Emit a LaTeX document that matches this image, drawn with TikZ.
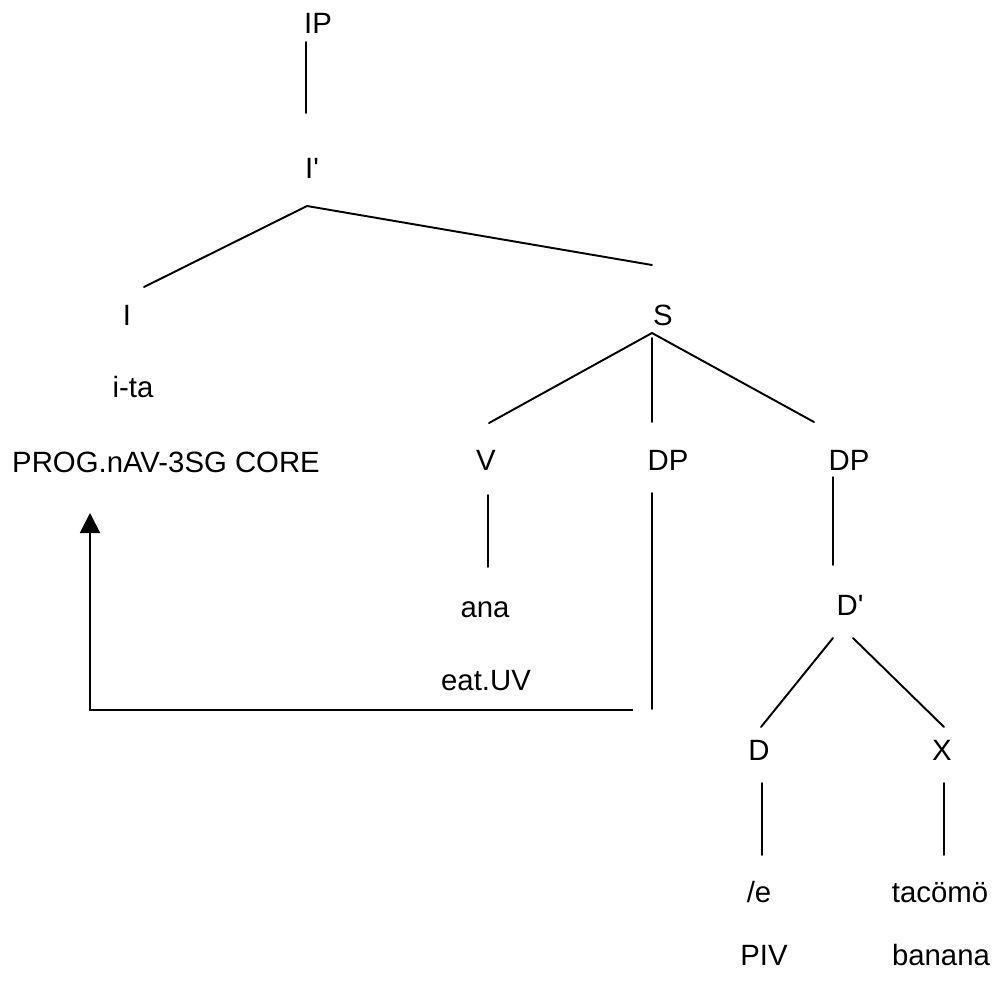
\documentclass[tikz,border=0pt]{standalone}
\usepackage{fontspec}
\setmainfont{Liberation Sans}
\usepackage{tikz}
\usetikzlibrary{arrows.meta, calc}

\begin{document}
\begin{tikzpicture}[x=0.02cm, y=-0.02cm,
    lbl/.style={anchor=base, inner sep=0pt, font=\fontsize{16.7}{20}\selectfont},
    branch/.style={line width=1.1pt, line cap=round}]
        \useasboundingbox (0,0) rectangle (995,985);

        \node[lbl] (ip) at (318,33) {IP};
        \node[lbl] (ibar) at (312,178) {I\textquotesingle};
        \node[lbl] (i) at (127,325) {I};
        \node[lbl] (s) at (663,325) {S};
        \node[lbl] (ita) at (133,397) {i-ta};
        \node[lbl] (prog) at (166,472) {PROG.nAV-3SG CORE};
        \node[lbl] (v) at (486,470) {V};
        \node[lbl] (dpa) at (668,470) {DP};
        \node[lbl] (dpb) at (849,470) {DP};
        \node[lbl] (ana) at (485,617) {ana};
        \node[lbl] (eat) at (486,690) {eat.UV};
        \node[lbl] (dbar) at (850,615) {D\textquotesingle};
        \node[lbl] (d) at (759,760) {D};
        \node[lbl] (x) at (942,760) {X};
        \node[lbl] (e) at (759,902) {/e};
        \node[lbl] (taco) at (940,902) {tacömö};
        \node[lbl] (piv) at (764,965) {PIV};
        \node[lbl] (banana) at (941,965) {banana};

        \coordinate (gap) at (633,710);

        \draw[branch] ($(ip.base)+(-12,9)$) -- ($(ibar.base)+(-6,-65)$);
        \draw[branch] ($(i.base)+(17,-38)$) -- ($(ibar.base)+(-5,28)$)
          -- ($(s.base)+(-11,-60)$);
        \draw[branch] ($(v.base)+(3,-47)$) -- ($(s.base)+(-11,8)$)
          -- ($(dpb.base)+(-35,-48)$);
        \draw[branch] ($(s.base)+(-11,13)$) -- ($(dpa.base)+(-16,-48)$);
        \draw[branch] ($(v.base)+(2,25)$) -- ($(ana.base)+(3,-50)$);
        \draw[branch] ($(dpa.base)+(-16,23)$) -- ($(dpa.base)+(-16,239)$);
        \draw[branch] ($(dpb.base)+(-16,7)$) -- ($(dbar.base)+(-17,-50)$);
        \draw[branch] ($(dbar.base)+(-17,23)$) -- ($(d.base)+(2,-33)$);
        \draw[branch] ($(dbar.base)+(3,23)$) -- ($(x.base)+(2,-33)$);
        \draw[branch] ($(d.base)+(3,23)$) -- ($(e.base)+(3,-47)$);
        \draw[branch] ($(x.base)+(2,23)$) -- ($(taco.base)+(4,-47)$);

        \draw[line width=1.1pt, -{Triangle[width=0.4cm, length=0.4cm]}]
          (gap) -| ($(prog.base)+(-76,41)$);
      \end{tikzpicture}
\end{document}
